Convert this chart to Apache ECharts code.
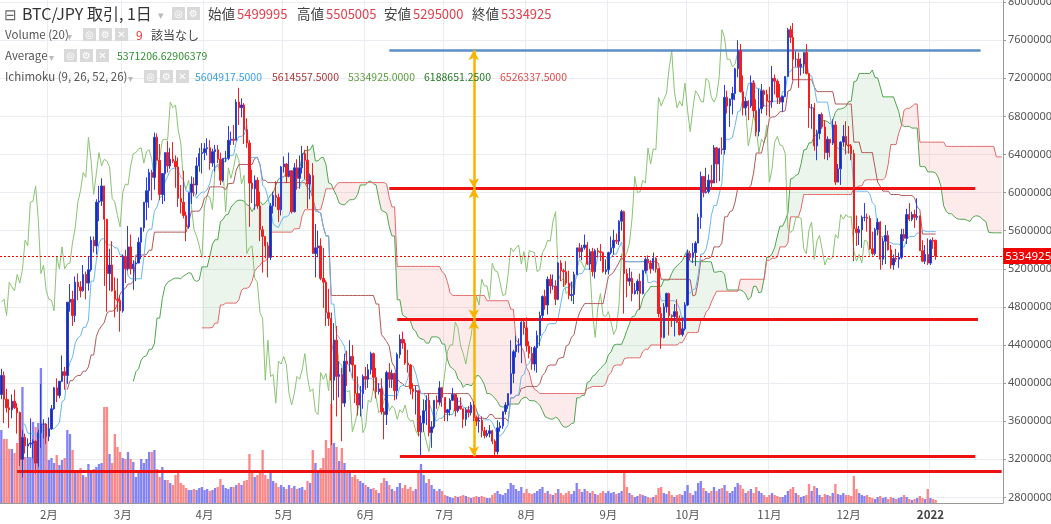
<!DOCTYPE html>
<html><head><meta charset="utf-8">
<script src="https://cdn.jsdelivr.net/npm/echarts@6/dist/echarts.min.js"></script>
<style>html,body{margin:0;padding:0;background:#fff;overflow:hidden}#c{width:1051px;height:524px}</style>
</head><body><div id="c"></div>
<script>
// ---- categories: daily, 2021-01-14 .. 2022-01-28 (380 days) ----
const startDate = '2021-01-14';
const totalDays = 380;

// ---- OHLC in thousand JPY, daily 2021-01-14 .. 2022-01-03 ----
const open = [
3880,4080,3830,3740,3720,3810,3740,3690,3200,3430,3340,3360,3370,3390,3160,3480,3570,3570,
3440,3520,3730,3950,3870,4020,4120,4080,4850,4880,4710,5060,5010,4970,5140,5050,5190,5500,5440,5900,5910,6070,5720,5150,5240,4970,4880,4870,
4760,5330,5200,5430,5200,5250,5260,5480,5630,5900,6020,6210,6160,6580,6340,5980,6200,6420,6280,6350,6330,6270,5940,5900,5760,5640,6000,6090,6080,6280,6410,
6420,6460,6470,6310,6430,6450,6350,6130,6360,6360,6550,6560,6550,6950,6890,6920,6660,6520,6100,6040,6130,5860,5610,5540,5440,5320,5860,5970,5950,5820,
6270,6300,6170,6230,5800,6260,6150,6260,6410,6340,6090,6180,5360,5420,5440,5100,5060,4740,4680,4030,4450,4070,4090,3790,4230,4200,4280,4190,3890,3770,3890,
4070,4040,4140,4310,4060,3910,3940,3700,3670,4110,4040,4100,3920,4300,4460,4420,4210,4190,3940,3910,3920,3490,3580,3710,3820,3480,3540,3820,3800,3950,
3850,3690,3720,3820,3880,3710,3760,3730,3620,3720,3690,3770,3640,3600,3610,3500,3450,3470,3500,3390,3280,3530,3550,3700,3770,3890,4100,4330,4400,4400,4640,
4580,4390,4310,4200,4370,4500,4710,4910,4820,5090,5020,5020,4880,5260,5180,5170,5050,4920,4930,5140,5420,5380,5420,5450,5250,5380,5170,5390,5380,5370,5170,
5190,5370,5420,5500,5490,5700,5800,5150,5070,5100,4940,4970,5070,4940,5180,5300,5260,5200,5310,5200,4730,4480,4800,4940,4710,4700,4750,4640,4510,4570,
4820,5360,5320,5370,5470,5740,6170,6000,6010,6130,6100,6470,6300,6460,6450,7000,6910,6980,7040,7300,7490,7060,6890,6960,6910,7150,6860,6640,6880,7070,7030,
6960,6950,7200,7170,7000,6950,7010,7220,7710,7630,7400,7400,7320,7350,7470,7250,6890,6890,6490,6620,6820,6690,6420,6560,6520,6710,6110,6250,6530,6590,
6500,6490,6410,5620,5580,5610,5740,5740,5730,5410,5360,5610,5690,5300,5490,5550,5400,5240,5310,5300,5320,5560,5520,5770,5720,5770,5740,5750,5390,5280,5350,
5260,5500,5499.995];
const high = [
4150,4120,3940,3830,3880,3930,3790,3700,3510,3470,3420,3630,3410,3400,3510,3990,3620,3580,
3640,3770,3960,4050,4020,4290,4170,4850,5040,4970,5120,5150,5070,5240,5170,5330,5540,5540,5930,6070,6150,6070,5720,5410,5490,5110,5100,4920,
5350,5400,5650,5560,5290,5280,5530,5630,5900,6160,6250,6240,6630,6620,6510,6200,6420,6540,6470,6530,6390,6370,6080,6230,5800,6000,6170,6160,6370,6470,6520,
6520,6570,6550,6460,6500,6500,6420,6360,6440,6700,6640,6710,6980,7100,6990,6940,6780,6550,6240,6180,6160,6010,5650,5540,5480,5890,6010,6120,5990,6280,
6380,6310,6420,6230,6310,6350,6390,6490,6450,6490,6200,6310,5670,5600,5520,5420,5080,4990,4740,4630,4600,4230,4160,4310,4340,4450,4400,4190,4070,3970,4090,
4170,4200,4330,4320,4160,4000,4050,3740,4130,4210,4140,4110,4320,4510,4540,4460,4350,4200,4000,3970,3930,3660,3830,3870,3890,3600,3820,3870,4020,3960,
3850,3730,3840,3950,3880,3850,3850,3730,3740,3760,3800,3810,3660,3640,3650,3540,3510,3560,3510,3410,3610,3590,3700,3800,3890,4450,4350,4500,4470,4650,4660,
4690,4440,4380,4390,4550,4750,4920,4980,5120,5140,5140,5080,5270,5290,5200,5280,5180,5060,5170,5420,5470,5450,5560,5480,5410,5420,5410,5420,5460,5380,5300,
5380,5540,5610,5570,5710,5820,5810,5200,5210,5170,5050,5090,5150,5190,5320,5340,5290,5370,5320,5200,4800,4840,4950,4950,4720,4830,4880,4710,4690,4850,
5400,5390,5470,5490,5780,6220,6170,6260,6190,6290,6500,6480,6470,6580,7130,7070,6990,7110,7310,7600,7560,7230,7000,6970,7230,7180,6980,7090,7140,7080,7080,
7110,7330,7240,7190,7140,7020,7220,7730,7750,7780,7480,7470,7410,7470,7560,7250,6930,6940,6660,6820,6840,6760,6590,6560,6770,6750,6300,6540,6710,6750,
6700,6510,6450,5760,5650,5760,5890,5780,5760,5590,5630,5730,5700,5530,5660,5600,5450,5350,5410,5370,5620,5620,5830,5890,5800,5820,5940,5760,5500,5450,5520,
5510,5530,5505.005];
const low = [
3830,3580,3690,3530,3630,3730,3470,3130,3010,3260,3220,3320,3210,3050,3120,3320,3420,3360,
3390,3510,3720,3800,3840,4010,3930,3990,4750,4600,4640,4870,4900,4960,4880,4970,5170,5370,5350,5700,5860,5020,4750,4970,4960,4690,4750,4540,
4740,5050,5180,5140,4980,5070,5260,5300,5590,5710,5840,5920,6030,6340,5920,5880,5910,6210,6250,6310,6050,5850,5780,5730,5490,5620,5880,5960,5980,6220,6200,
6340,6390,6240,6270,6220,6310,6080,6110,6320,6340,6500,6500,6550,6710,6790,6510,6470,5640,5890,5820,5830,5490,5160,5310,5110,5290,5780,5850,5690,5760,
6210,6100,6160,5780,5790,6030,6040,6200,6140,5830,5930,5360,5110,5320,5080,4790,4600,4600,3350,3820,3650,3850,3390,3750,3970,4120,4050,3790,3660,3650,3730,
3930,3950,4090,3920,3840,3880,3670,3410,3560,3950,3950,3820,3830,4260,4360,4190,4110,3880,3830,3670,3440,3240,3490,3560,3440,3320,3520,3730,3770,3750,
3600,3600,3660,3810,3650,3690,3720,3530,3550,3640,3660,3600,3550,3480,3430,3420,3430,3430,3360,3240,3250,3490,3520,3670,3730,3880,4000,4270,4320,4210,4510,
4330,4260,4140,4130,4110,4390,4680,4770,4720,4940,4980,4820,4870,5070,5010,5030,4880,4860,4830,5140,5310,5290,5400,5240,5190,5120,5100,5320,5280,5160,5140,
5140,5350,5350,5460,5450,5600,4730,4900,5020,4860,4930,4930,4770,4930,5150,5180,5150,5180,5160,4690,4360,4470,4740,4500,4590,4490,4630,4500,4490,4550,
4810,5290,5260,5230,5470,5620,5950,5990,5990,6030,6100,6100,6120,6400,6400,6830,6690,6820,6970,7210,7050,6810,6810,6760,6890,6790,6590,6590,6830,6900,6810,
6790,6890,7030,6930,6930,6850,7000,7220,7570,7180,7320,7100,7230,7250,7240,6680,6670,6440,6340,6560,6670,6350,6340,6370,6500,6080,6110,6080,6480,6400,
6410,6340,5280,5440,5450,5420,5700,5590,5400,5340,5340,5550,5190,5240,5250,5390,5200,5190,5270,5210,5300,5490,5460,5700,5700,5630,5710,5390,5270,5250,5240,
5240,5410,5295];
const close = [
4080,3830,3740,3720,3810,3740,3690,3200,3430,3340,3360,3370,3390,3160,3480,3570,3570,3440,
3520,3730,3950,3870,4020,4120,4080,4850,4880,4710,5060,5010,4970,5140,5050,5190,5500,5440,5900,5910,6070,5720,5150,5240,4970,4880,4870,4760,
5330,5200,5430,5200,5250,5260,5480,5630,5900,6020,6210,6160,6580,6340,5980,6200,6420,6280,6350,6330,6270,5940,5900,5760,5640,6000,6090,6080,6280,6410,6420,
6460,6470,6310,6430,6450,6350,6130,6360,6360,6550,6560,6550,6950,6890,6920,6660,6520,6100,6040,6130,5860,5610,5540,5440,5320,5860,5970,5950,5820,6270,
6300,6170,6230,5800,6260,6150,6260,6410,6340,6090,6180,5360,5420,5440,5100,5060,4740,4680,4030,4450,4070,4090,3790,4230,4200,4280,4190,3890,3770,3890,4070,
4040,4140,4310,4060,3910,3940,3700,3670,4110,4040,4100,3920,4300,4460,4420,4210,4190,3940,3910,3920,3490,3580,3710,3820,3480,3540,3820,3800,3950,3850,
3690,3720,3820,3880,3710,3760,3730,3620,3720,3690,3770,3640,3600,3610,3500,3450,3470,3500,3390,3280,3530,3550,3700,3770,3890,4100,4330,4400,4400,4640,4580,
4390,4310,4200,4370,4500,4710,4910,4820,5090,5020,5020,4880,5260,5180,5170,5050,4920,4930,5140,5420,5380,5420,5450,5250,5380,5170,5390,5380,5370,5170,5190,
5370,5420,5500,5490,5700,5800,5150,5070,5100,4940,4970,5070,4940,5180,5300,5260,5200,5310,5200,4730,4480,4800,4940,4710,4700,4750,4640,4510,4570,4820,
5360,5320,5370,5470,5740,6170,6000,6010,6130,6100,6470,6300,6460,6450,7000,6910,6980,7040,7300,7490,7060,6890,6960,6910,7150,6860,6640,6880,7070,7030,6960,
6950,7200,7170,7000,6950,7010,7220,7710,7630,7400,7400,7320,7350,7470,7250,6890,6890,6490,6620,6820,6690,6420,6560,6520,6710,6110,6250,6530,6590,6500,
6490,6410,5620,5580,5610,5740,5740,5730,5410,5360,5610,5690,5300,5490,5550,5400,5240,5310,5300,5320,5560,5520,5770,5720,5770,5740,5750,5390,5280,5350,5260,
5500,5490,5334.925];

// ---- daily volume (relative units) ----
const volume = [
73,64,64,54,54,50,60,91,116,46,46,46,81,76,80,135,79,73,
43,45,40,48,38,43,45,73,69,53,33,30,35,28,26,39,30,34,36,39,40,96,96,49,40,69,56,51,
45,44,51,44,41,26,31,44,40,44,51,51,53,34,26,36,23,23,20,18,28,31,20,18,15,13,13,14,13,15,16,
13,14,12,13,15,16,24,18,15,14,16,16,18,20,18,22,23,49,30,26,28,32,53,28,24,30,22,20,16,18,
16,14,18,15,17,14,15,16,13,22,20,53,40,30,35,45,63,55,99,60,56,42,55,40,32,30,26,28,24,22,20,
18,16,14,15,13,10,20,25,22,18,14,12,16,20,15,18,14,16,12,14,30,39,28,20,24,18,14,12,14,12,
8,7,6,5,7,6,7,8,7,6,5,6,7,6,7,6,5,5,8,10,12,9,8,10,14,20,18,14,12,16,10,
14,10,9,10,12,14,16,10,12,9,8,10,14,10,8,10,12,9,12,20,14,11,14,12,10,12,9,8,10,12,10,
12,10,11,9,10,12,30,16,10,8,6,7,9,8,7,6,5,6,8,15,16,10,9,12,8,6,8,9,8,12,
18,10,8,12,20,22,15,12,10,12,16,12,14,15,18,12,10,12,16,20,18,14,10,12,14,10,16,12,10,8,6,
8,10,8,7,6,6,8,12,14,16,10,8,6,7,8,19,12,17,15,8,6,9,8,7,10,19,9,8,10,8,
8,7,27,14,10,8,7,8,6,5,4,6,7,5,6,4,6,5,4,5,6,8,6,4,3,4,5,7,5,4,14,
5,4,3];

// ---- drawn horizontal levels: [from, to, price] ----
const levelLines = [
  ['2021-06-10','2022-01-20',7494000],
  ['2021-06-10','2022-01-18',6045000],
  ['2021-06-13','2022-01-19',4670000],
  ['2021-06-14','2022-01-18',3231000],
  ['2021-01-20','2022-01-28',3074000]
];
// ---- measuring arrows: [date, fromPrice, toPrice] ----
const arrowLines = [
  ['2021-07-12',7494000,6045000],
  ['2021-07-12',6045000,4670000],
  ['2021-07-12',4670000,3231000]
];
const lastPrice = 5334925;

// ---- header texts ----
const titleText = 'BTC/JPY 取引, 1日';
const ohlcLabels = ['始値','高値','安値','終値'];
const ohlcValues = ['5499995','5505005','5295000','5334925'];
const volumeTexts = ['Volume (20)','9','該当なし'];
const averageTexts = ['Average','5371206.62906379'];
const ichimokuName = 'Ichimoku (9, 26, 52, 26)';
const ichimokuValues = ['5604917.5000','5614557.5000','5334925.0000','6188651.2500','6526337.5000'];

// ---------------------------------------------------------------
const dates = [];
{
  const d0 = new Date(startDate + 'T00:00:00Z');
  for (let i = 0; i < totalDays; i++) {
    const d = new Date(d0.getTime() + i * 86400000);
    dates.push(d.toISOString().slice(0, 10));
  }
}
const N = close.length;
const K = 1000;
function midRange(n, i) {
  if (i < n - 1) return null;
  let h = -Infinity, l = Infinity;
  for (let j = i - n + 1; j <= i; j++) { h = Math.max(h, high[j]); l = Math.min(l, low[j]); }
  return (h + l) / 2 * K;
}
const shift = 25;
const tenkan = new Array(totalDays).fill(null);
const kijun = new Array(totalDays).fill(null);
const spanA = new Array(totalDays).fill(null);
const spanB = new Array(totalDays).fill(null);
const chikou = new Array(totalDays).fill(null);
for (let i = 0; i < N; i++) {
  tenkan[i] = midRange(9, i);
  kijun[i] = midRange(26, i);
  if (tenkan[i] != null && kijun[i] != null) spanA[i + shift] = (tenkan[i] + kijun[i]) / 2;
  const b = midRange(52, i);
  if (b != null) spanB[i + shift] = b;
  if (i >= shift) chikou[i - shift] = close[i] * K;
}
const cloudBase = [], cloudGreen = [], cloudRed = [];
for (let i = 0; i < totalDays; i++) {
  const a = spanA[i], b = spanB[i];
  if (a == null || b == null) { cloudBase.push(null); cloudGreen.push(null); cloudRed.push(null); continue; }
  cloudBase.push(Math.min(a, b));
  cloudGreen.push(Math.max(a - b, 0));
  cloudRed.push(Math.max(b - a, 0));
}
const candles = [];
for (let i = 0; i < N; i++) candles.push([open[i] * K, close[i] * K, low[i] * K, high[i] * K]);

const UP = '#15309c', UP_B = '#2a40d8', DOWN = '#ee2020';
const volData = volume.map((v, i) => ({
  value: v,
  itemStyle: { color: close[i] >= open[i] ? 'rgba(100,100,240,0.8)' : 'rgba(250,110,110,0.82)' }
}));

const isMonthStart = (idx, val) => val.slice(8) === '01';
const jp = '"Noto Sans CJK JP","Noto Sans",sans-serif';

// header graphics
const G = [];
function txt(x, y, s, size, color, weight) {
  G.push({ type: 'text', x: x, y: y, z: 100, silent: true,
    style: { text: s, fill: color, font: (weight || 'normal') + ' ' + size + 'px ' + jp,
      verticalAlign: 'middle', textVerticalAlign: 'middle' } });
}
function icon(x, y, glyph) {
  G.push({ type: 'rect', x: x, y: y - 7, z: 100, silent: true, shape: { x: 0, y: 0, width: 13, height: 13 }, style: { fill: '#d9d9d9' } });
  G.push({ type: 'text', x: x + 6.5, y: y, z: 101, silent: true,
    style: { text: glyph, fill: '#fff', font: 'bold 10px "DejaVu Sans"', align: 'center', textAlign: 'center', verticalAlign: 'middle', textVerticalAlign: 'middle' } });
}
// line 1
txt(4, 14, '⊟', 15, '#666');
txt(22, 14, titleText, 16, '#333');
txt(158, 15, '▾', 11, '#bbb');
icon(172, 14, '◎'); icon(187, 14, '⚙');
const ohlcX = [208, 297, 384, 472];
ohlcLabels.forEach((l, i) => { txt(ohlcX[i], 14, l, 13.5, '#444'); txt(ohlcX[i] + 29, 14, ohlcValues[i], 13, '#e3404c'); });
// line 2
txt(5, 35, volumeTexts[0], 11.5, '#555');
txt(67, 36, '▾', 10, '#bbb');
icon(83, 35, '◎'); icon(99, 35, '⚙'); icon(115, 35, '✕');
txt(136, 35, volumeTexts[1], 12, '#e33');
txt(151, 35, volumeTexts[2], 12, '#444');
// line 3
txt(5, 56, averageTexts[0], 11.5, '#555');
txt(49, 57, '▾', 10, '#bbb');
icon(64, 56, '◎'); icon(80, 56, '⚙'); icon(96, 56, '✕');
txt(117, 56, averageTexts[1], 10.5, '#2f8f2f');
// line 4
txt(5, 77, ichimokuName, 11.5, '#555');
txt(128, 78, '▾', 10, '#bbb');
icon(144, 77, '◎'); icon(160, 77, '⚙'); icon(176, 77, '✕');
const ichiX = [195, 272, 348, 424, 500];
const ichiC = ['#3a9fe8', '#b03535', '#5a9e3a', '#237a23', '#e04848'];
ichimokuValues.forEach((v, i) => txt(ichiX[i], 77, v, 10.5, ichiC[i]));

const levelMarks = levelLines.map((l, i) => [
  { coord: [l[0], l[2]], lineStyle: { color: i === 0 ? '#5a8fc8' : '#ee1111', width: i === 0 ? 2.5 : 3, type: 'solid' } },
  { coord: [l[1], l[2]] }
]);
const arrowMarks = arrowLines.map(a => [{ coord: [a[0], a[1]] }, { coord: [a[0], a[2]] }]);

const lineS = (name, data, color, z) => ({
  name, type: 'line', data, xAxisIndex: 0, yAxisIndex: 0, showSymbol: false, symbol: 'none',
  lineStyle: { color, width: 1 }, z: z || 3, silent: true, connectNulls: false
});

const option = {
  animation: false,
  backgroundColor: '#fff',
  grid: [
    { left: 0, right: 48, top: -36, height: 571.5, outerBoundsMode: 'none', containLabel: false },
    { left: 0, right: 48, top: 0, bottom: 21, outerBoundsMode: 'none', containLabel: false }
  ],
  xAxis: [
    { type: 'category', gridIndex: 0, data: dates, boundaryGap: true, show: false },
    { type: 'category', gridIndex: 1, data: dates, boundaryGap: true,
      axisLine: { lineStyle: { color: '#999' } },
      axisTick: { interval: isMonthStart, alignWithLabel: true, length: 4, lineStyle: { color: '#999' } },
      axisLabel: { interval: isMonthStart, color: '#555', fontSize: 11.5, fontFamily: jp, margin: 6,
        formatter: v => v.slice(5, 7) === '01' ? '{b|' + v.slice(0, 4) + '}' : parseInt(v.slice(5, 7), 10) + '月',
        rich: { b: { fontWeight: 'bold', color: '#444', fontSize: 11.5, fontFamily: jp } } },
      splitLine: { show: true, interval: isMonthStart, lineStyle: { color: '#e9edf2' } } }
  ],
  yAxis: [
    { type: 'value', gridIndex: 0, position: 'right', min: 2400000, max: 8400000, interval: 400000,
      axisLine: { show: false },
      axisTick: { show: true, length: 3, lineStyle: { color: '#999' } },
      axisLabel: { color: '#555', fontSize: 11, margin: 5, fontFamily: '"Noto Sans",sans-serif', formatter: v => String(v) },
      splitLine: { show: true, lineStyle: { color: '#e9edf2' } } },
    { type: 'value', gridIndex: 1, position: 'right', min: 0, max: 503,
      axisLine: { show: true, lineStyle: { color: '#999' } },
      axisTick: { show: false }, axisLabel: { show: false }, splitLine: { show: false } }
  ],
  graphic: G,
  series: [
    { name: 'volume', type: 'bar', xAxisIndex: 1, yAxisIndex: 1, data: volData, barWidth: '88%', z: 1, silent: true },
    { name: 'cloudBase', type: 'line', stack: 'cloud', data: cloudBase, symbol: 'none', lineStyle: { opacity: 0 }, z: 2, silent: true },
    { name: 'cloudGreen', type: 'line', stack: 'cloud', data: cloudGreen, symbol: 'none', lineStyle: { opacity: 0 },
      areaStyle: { color: 'rgba(80,170,80,0.16)' }, z: 2, silent: true },
    { name: 'cloudRed', type: 'line', stack: 'cloud', data: cloudRed, symbol: 'none', lineStyle: { opacity: 0 },
      areaStyle: { color: 'rgba(240,80,80,0.16)' }, z: 2, silent: true },
    lineS('senkouA', spanA, '#4fa64f'),
    lineS('senkouB', spanB, '#e46a6a'),
    lineS('chikou', chikou, '#8cc474'),
    lineS('kijun', kijun, '#b25a5a'),
    lineS('tenkan', tenkan, '#6ab8f0'),
    { name: 'price', type: 'candlestick', xAxisIndex: 0, yAxisIndex: 0, data: candles, barWidth: '72%', z: 5, silent: true,
      itemStyle: { color: UP, color0: DOWN, borderColor: UP_B, borderColor0: DOWN, borderWidth: 1 } },
    { name: 'lastPrice', type: 'line', xAxisIndex: 0, yAxisIndex: 0, data: new Array(totalDays).fill(null), z: 9,
      symbol: 'none', silent: true,
      markLine: { silent: true, symbol: 'none', animation: false, label: { show: false },
        lineStyle: { color: '#ff0000', type: [2, 2], width: 1 },
        data: [{ yAxis: lastPrice }] } },
    { name: 'annotations', type: 'line', xAxisIndex: 0, yAxisIndex: 0, data: new Array(totalDays).fill(null), z: 10,
      symbol: 'none', silent: true,
      markLine: { silent: true, symbol: 'none', animation: false, label: { show: false },
        data: levelMarks } },
    { name: 'arrows', type: 'line', xAxisIndex: 0, yAxisIndex: 0, data: new Array(totalDays).fill(null), z: 11,
      symbol: 'none', silent: true,
      markLine: { silent: true, symbol: ['arrow', 'arrow'], symbolSize: [8, 10], animation: false, label: { show: false },
        lineStyle: { color: '#f6b400', width: 2.5, type: 'solid' },
        data: arrowMarks } }
  ]
};
const chart = echarts.init(document.getElementById('c'));
chart.setOption(option);

// last-price tag on the price axis, placed through the price axis scale
const tagY = chart.convertToPixel({ yAxisIndex: 0 }, lastPrice);
const axisX = chart.convertToPixel({ xAxisIndex: 1 }, dates[totalDays - 1]) + 1.5;
chart.setOption({ graphic: G.concat([
  { type: 'rect', x: axisX, y: tagY - 8, z: 120, silent: true, shape: { x: 0, y: 0, width: 1051 - axisX, height: 16 },
    style: { fill: '#f20000' } },
  { type: 'text', x: axisX + 2, y: tagY + 0.5, z: 121, silent: true,
    style: { text: String(lastPrice), fill: '#ffffff', font: '11.5px "Noto Sans",sans-serif',
      verticalAlign: 'middle', textVerticalAlign: 'middle' } }
]) });
</script>
</body></html>
